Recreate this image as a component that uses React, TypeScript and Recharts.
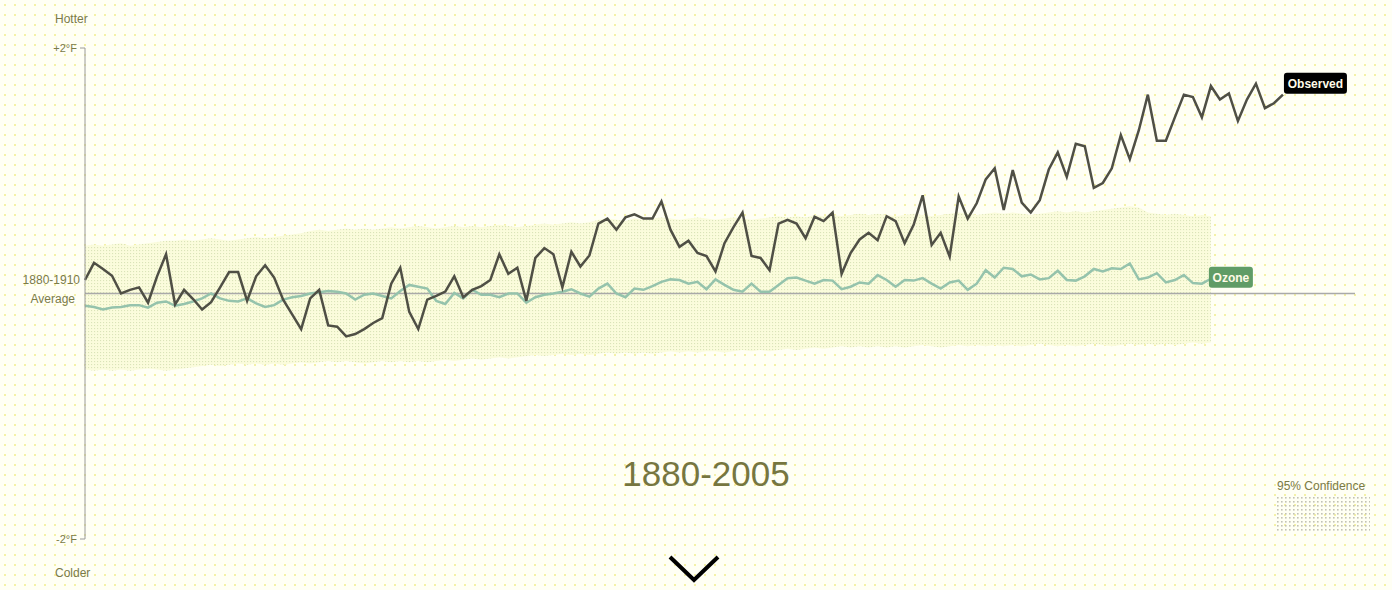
import { ComposedChart, Line, Area, XAxis, YAxis, ReferenceLine } from 'recharts';

// Temperature anomaly vs 1880-1910 average, °F
const startYear = 1880;

const observed = [
  0.11, 0.25, 0.2, 0.145, 0.0, 0.03, 0.05, -0.075, 0.14, 0.32,
  -0.09, 0.03, -0.045, -0.13, -0.07, 0.05, 0.175, 0.175, -0.06, 0.14,
  0.23, 0.13, -0.05, -0.17, -0.29, -0.04, 0.03, -0.26, -0.27, -0.35,
  -0.33, -0.29, -0.24, -0.2, 0.08, 0.21, -0.15, -0.29, -0.05, -0.02,
  0.015, 0.14, -0.03, 0.03, 0.06, 0.11, 0.32, 0.16, 0.21, -0.06,
  0.29, 0.37, 0.32, 0.05, 0.34, 0.22, 0.31, 0.57, 0.61, 0.52,
  0.62, 0.645, 0.61, 0.61, 0.75, 0.52, 0.38, 0.43, 0.33, 0.305,
  0.18, 0.41, 0.54, 0.66, 0.305, 0.29, 0.19, 0.57, 0.6, 0.57,
  0.45, 0.625, 0.59, 0.66, 0.16, 0.33, 0.44, 0.495, 0.435, 0.63,
  0.59, 0.41, 0.56, 0.8, 0.395, 0.495, 0.3, 0.79, 0.61, 0.735,
  0.93, 1.02, 0.68, 1.006, 0.74, 0.66, 0.76, 1.01, 1.15, 0.95,
  1.22, 1.2, 0.86, 0.9, 1.02, 1.29, 1.095, 1.33, 1.62, 1.245,
  1.245, 1.435, 1.62, 1.6, 1.435, 1.69, 1.58, 1.63, 1.405, 1.58,
  1.71, 1.51, 1.55, 1.62,
];

const ozone = [
  -0.1, -0.11, -0.13, -0.115, -0.11, -0.095, -0.095, -0.115, -0.075, -0.065,
  -0.1, -0.085, -0.065, -0.04, 0.0, -0.04, -0.06, -0.065, -0.04, -0.08,
  -0.11, -0.095, -0.05, -0.03, -0.02, 0.0, 0.01, 0.02, 0.015, 0.0,
  -0.05, -0.01, 0.0, -0.02, -0.04, 0.02, 0.07, 0.055, 0.04, -0.06,
  -0.085, 0.005, -0.04, 0.03, -0.01, -0.01, -0.03, 0.0, 0.0, -0.075,
  -0.03, -0.01, 0.0, 0.015, 0.035, 0.0, -0.025, 0.04, 0.08, 0.0,
  -0.03, 0.04, 0.03, 0.06, 0.095, 0.115, 0.11, 0.08, 0.095, 0.035,
  0.115, 0.07, 0.03, 0.015, 0.08, 0.015, 0.015, 0.07, 0.125, 0.13,
  0.105, 0.08, 0.11, 0.105, 0.035, 0.055, 0.09, 0.08, 0.15, 0.11,
  0.055, 0.11, 0.105, 0.125, 0.08, 0.04, 0.09, 0.105, 0.03, 0.08,
  0.19, 0.13, 0.21, 0.2, 0.14, 0.155, 0.115, 0.125, 0.185, 0.11,
  0.105, 0.14, 0.2, 0.18, 0.205, 0.2, 0.245, 0.115, 0.13, 0.165,
  0.09, 0.11, 0.15, 0.085, 0.08, 0.12,
];

// 95% confidence range of the ozone model run
const bandHigh = [
  0.39, 0.4, 0.39, 0.4, 0.41, 0.39, 0.4, 0.41, 0.42, 0.43,
  0.43, 0.44, 0.43, 0.44, 0.45, 0.44, 0.43, 0.44, 0.45, 0.46,
  0.45, 0.46, 0.47, 0.48, 0.49, 0.51, 0.52, 0.51, 0.52, 0.53,
  0.52, 0.53, 0.52, 0.53, 0.54, 0.53, 0.54, 0.55, 0.54, 0.53,
  0.54, 0.55, 0.54, 0.55, 0.54, 0.55, 0.56, 0.55, 0.54, 0.55,
  0.56, 0.57, 0.56, 0.57, 0.58, 0.57, 0.58, 0.6, 0.61, 0.6,
  0.59, 0.61, 0.6, 0.61, 0.62, 0.61, 0.6, 0.61, 0.62, 0.61,
  0.6, 0.61, 0.62, 0.61, 0.6, 0.61, 0.62, 0.63, 0.62, 0.63,
  0.62, 0.64, 0.63, 0.64, 0.63, 0.64, 0.65, 0.64, 0.65, 0.64,
  0.63, 0.64, 0.65, 0.64, 0.63, 0.64, 0.65, 0.66, 0.65, 0.64,
  0.65, 0.66, 0.65, 0.66, 0.65, 0.64, 0.65, 0.66, 0.67, 0.66,
  0.67, 0.66, 0.67, 0.68, 0.69, 0.7, 0.71, 0.7, 0.66, 0.65,
  0.64, 0.65, 0.64, 0.63, 0.64, 0.63,
];

const bandLow = [
  -0.62, -0.63, -0.62, -0.63, -0.62, -0.63, -0.62, -0.61, -0.62, -0.63,
  -0.62, -0.61, -0.6, -0.59, -0.58, -0.59, -0.58, -0.57, -0.58, -0.57,
  -0.58, -0.57, -0.58, -0.57, -0.56, -0.57, -0.56, -0.55, -0.56, -0.55,
  -0.56, -0.57, -0.56, -0.55, -0.56, -0.55, -0.56, -0.55, -0.56, -0.55,
  -0.54, -0.55, -0.54, -0.53, -0.54, -0.53, -0.52, -0.53, -0.52, -0.51,
  -0.5, -0.51, -0.5, -0.49, -0.5, -0.49, -0.5, -0.49, -0.48, -0.49,
  -0.48, -0.49, -0.48, -0.49, -0.48, -0.47, -0.48, -0.47, -0.48, -0.47,
  -0.47, -0.48, -0.47, -0.46, -0.47, -0.46, -0.47, -0.46, -0.45, -0.46,
  -0.45, -0.44, -0.45, -0.44, -0.43, -0.44, -0.43, -0.44, -0.43, -0.44,
  -0.43, -0.44, -0.43, -0.42, -0.43, -0.44, -0.43, -0.42, -0.43, -0.42,
  -0.43, -0.42, -0.43, -0.42, -0.43, -0.42, -0.41, -0.42, -0.43, -0.42,
  -0.43, -0.42, -0.41, -0.42, -0.43, -0.42, -0.41, -0.42, -0.41, -0.42,
  -0.41, -0.42, -0.41, -0.4, -0.41, -0.4,
];

const yTicks = [-2, 2];
const periodLabel = '1880-2005';

const data = observed.map((v, i) => ({
  year: startYear + i,
  observed: v,
  ozone: i < ozone.length ? ozone[i] : undefined,
  band: i < bandHigh.length ? [bandLow[i], bandHigh[i]] : undefined,
}));

const FONT = '"Liberation Sans", Arial, sans-serif';
const TEXT = '#7a7a48';

const EndTag = (props: any, last: number, text: string, fill: string, w: number, dx: number, dy: number) => {
  const { x, y, index } = props;
  if (index !== last) return <g />;
  return (
    <g>
      <rect x={x + dx} y={y + dy} width={w} height={21} rx={3} fill={fill} />
      <text x={x + dx + w / 2} y={y + dy + 15} textAnchor="middle" fill="#fffbe8" fontSize={12} fontWeight="bold" fontFamily={FONT}>
        {text}
      </text>
    </g>
  );
};

export default function App() {
  return (
    <div
      style={{
        position: 'absolute',
        left: 0,
        top: 0,
        width: 1392,
        height: 590,
        backgroundColor: '#fffff4',
        backgroundImage: 'radial-gradient(#f4f1a6 0.9px, transparent 1.3px)',
        backgroundSize: '10px 10px',
        fontFamily: FONT,
        overflow: 'hidden',
      }}
    >
      <ComposedChart width={1392} height={590} data={data} margin={{ top: 48, right: 37, bottom: 51, left: 0 }}>
        <defs>
          <pattern id="bandDots" width="3" height="3" patternUnits="userSpaceOnUse">
            <rect width="3" height="3" fill="#fbfcdc" />
            <rect x="1" y="1" width="1.1" height="1.1" fill="#dae3b8" />
          </pattern>
        </defs>
        <XAxis dataKey="year" type="number" domain={[1880, 2021]} hide />
        <YAxis
          type="number"
          domain={[-2, 2]}
          ticks={yTicks}
          interval={0}
          width={85}
          tickSize={5}
          tickMargin={3}
          axisLine={{ stroke: '#9a9a9a' }}
          tickLine={{ stroke: '#9a9a9a' }}
          tick={{ fill: TEXT, fontSize: 11, fontFamily: FONT }}
          tickFormatter={(v: number) => (v > 0 ? `+${v}°F` : `${v}°F`)}
        />
        <Area dataKey="band" stroke="none" fill="url(#bandDots)" fillOpacity={1} isAnimationActive={false} />
        <ReferenceLine y={0} stroke="#a9a9a9" strokeWidth={1.3} />
        <Line
          dataKey="ozone"
          stroke="#95c3ac"
          strokeWidth={2.5}
          dot={false}
          type="linear"
          isAnimationActive={false}
          label={(p: any) => EndTag(p, ozone.length - 1, 'Ozone', '#609c66', 44, -2, -12)}
        />
        <Line
          dataKey="observed"
          stroke="#4f4f45"
          strokeWidth={2.5}
          dot={false}
          type="linear"
          isAnimationActive={false}
          label={(p: any) => EndTag(p, observed.length - 1, 'Observed', '#000000', 63, 1, -22)}
        />
      </ComposedChart>

      <svg width={1392} height={590} style={{ position: 'absolute', left: 0, top: 0, pointerEvents: 'none' }}>
        <defs>
          <pattern id="legendDots" width="4" height="4" patternUnits="userSpaceOnUse">
            <rect x="1" y="1" width="1.6" height="1.6" fill="#c2c2b4" />
          </pattern>
        </defs>
        <g fontFamily={FONT} fill={TEXT} fontSize={12}>
          <text x={55} y={23}>Hotter</text>
          <text x={55} y={577}>Colder</text>
          <text x={80} y={284} textAnchor="end">1880-1910</text>
          <text x={75} y={303} textAnchor="end">Average</text>
          <text x={1277} y={490}>95% Confidence</text>
          <text x={706} y={486} textAnchor="middle" fontSize={35} fill="#76763f">{periodLabel}</text>
        </g>
        <rect x={1277} y={496} width={93} height={36} fill="url(#legendDots)" />
        <polyline points="670,557 694,580 718,557" fill="none" stroke="#000" strokeWidth={4} />
      </svg>
    </div>
  );
}
